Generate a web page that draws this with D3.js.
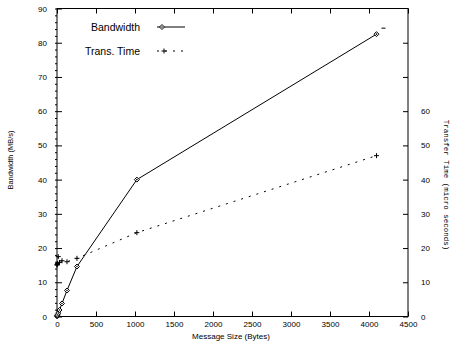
<!DOCTYPE html>
<html lang="en">
<head>
<meta charset="UTF-8">
<title>Bandwidth vs Message Size</title>
<script src="https://d3js.org/d3.v7.min.js"></script>
<style>
  body { margin: 0; background: #fff; }
  text { font-family: "Liberation Sans", Arial, sans-serif; fill: #000; }
</style>
</head>
<body>
<div id="chart"></div>
<script>
// Data
const sizes = [1, 2, 4, 8, 16, 32, 64, 128, 256, 1024, 4096];
const bandwidth = [0.07, 0.13, 0.26, 0.5, 1.0, 1.9, 3.8, 7.6, 14.6, 40, 82.5];
const transTime = [15, 15.2, 15.3, 15.5, 17.5, 15.8, 16.3, 16, 17, 24.5, 47];
const xTicks = d3.range(0, 4501, 500);
const yTicks = d3.range(0, 91, 10);
const rightTicks = d3.range(0, 81, 10);
const rightLabels = d3.range(0, 61, 10);

const width = 451, height = 342;
const svg = d3.select("#chart").append("svg")
  .attr("width", width).attr("height", height);

const x = d3.scaleLinear().domain([0, 4500]).range([57, 408]);
const y = d3.scaleLinear().domain([0, 90]).range([316.5, 8.5]);

// frame
svg.append("rect")
  .attr("x", x(0)).attr("y", y(90))
  .attr("width", x(4500) - x(0)).attr("height", y(0) - y(90))
  .attr("fill", "none").attr("stroke", "#000").attr("stroke-width", 1);

// bottom axis, ticks inside
svg.append("g")
  .attr("transform", `translate(0,${y(0)})`)
  .call(d3.axisBottom(x).tickValues(xTicks).tickSize(-5).tickPadding(5).tickFormat(d3.format("d")))
  .call(g => g.select(".domain").remove())
  .call(g => g.selectAll("text").attr("font-size", 8).attr("font-family", "Liberation Sans, Arial"));

// top mirror ticks
svg.append("g")
  .attr("transform", `translate(0,${y(90)})`)
  .call(d3.axisTop(x).tickValues(xTicks).tickSize(-5).tickFormat(""))
  .call(g => g.select(".domain").remove());

// left axis
svg.append("g")
  .attr("transform", `translate(${x(0)},0)`)
  .call(d3.axisLeft(y).tickValues(yTicks).tickSize(-5).tickPadding(10))
  .call(g => g.select(".domain").remove())
  .call(g => g.selectAll("text").attr("font-size", 8).attr("font-family", "Liberation Sans, Arial"));

// left minor ticks
svg.append("g")
  .attr("transform", `translate(${x(0)},0)`)
  .call(d3.axisLeft(y).tickValues(d3.range(0, 91, 2)).tickSize(2).tickFormat(""))
  .call(g => g.select(".domain").remove());

// right axis
svg.append("g")
  .attr("transform", `translate(${x(4500)},0)`)
  .call(d3.axisRight(y).tickValues(rightTicks).tickSize(-5).tickPadding(13)
    .tickFormat(d => rightLabels.includes(d) ? d : ""))
  .call(g => g.select(".domain").remove())
  .call(g => g.selectAll("text").attr("font-size", 8).attr("font-family", "Liberation Sans, Arial"));

// axis titles
svg.append("text")
  .attr("transform", `translate(13,${160}) rotate(-90)`)
  .attr("text-anchor", "middle").attr("font-size", 7.5)
  .text("Bandwidth (MB/s)");

svg.append("text")
  .attr("x", 231).attr("y", 339)
  .attr("text-anchor", "middle").attr("font-size", 8)
  .text("Message Size (Bytes)");

svg.append("text")
  .attr("transform", `translate(444,${185}) rotate(90)`)
  .attr("text-anchor", "middle").attr("font-size", 7.5)
  .style("font-family", "Liberation Mono, Courier New, monospace")
  .text("Transfer Time (micro seconds)");

// series
const bwPts = sizes.map((s, i) => [s, bandwidth[i]]);
const ttPts = sizes.map((s, i) => [s, transTime[i]]);
const line = d3.line().x(d => x(d[0])).y(d => y(d[1]));

svg.append("path").datum(ttPts)
  .attr("d", line).attr("fill", "none")
  .attr("stroke", "#000").attr("stroke-width", 1).attr("stroke-dasharray", "2,6");

svg.append("path").datum(bwPts)
  .attr("d", line).attr("fill", "none")
  .attr("stroke", "#000").attr("stroke-width", 1);

function diamond(g, cx, cy) {
  g.append("path")
    .attr("d", `M${cx},${cy - 2.5}L${cx + 2.5},${cy}L${cx},${cy + 2.5}L${cx - 2.5},${cy}Z`)
    .attr("fill", "#fff").attr("stroke", "#000").attr("stroke-width", 1);
  g.append("circle").attr("cx", cx).attr("cy", cy).attr("r", 0.8).attr("fill", "#000");
}
function plus(g, cx, cy) {
  g.append("path")
    .attr("d", `M${cx - 2.5},${cy}H${cx + 2.5}M${cx},${cy - 2.5}V${cy + 2.5}`)
    .attr("stroke", "#000").attr("stroke-width", 1);
}

const marks = svg.append("g");
ttPts.forEach(d => plus(marks, x(d[0]), y(d[1])));
bwPts.forEach(d => diamond(marks, x(d[0]), y(d[1])));

// small dash beside the last bandwidth point
const last = bwPts[bwPts.length - 1];
marks.append("line")
  .attr("x1", x(last[0]) + 5).attr("x2", x(last[0]) + 9)
  .attr("y1", y(last[1]) - 6).attr("y2", y(last[1]) - 6)
  .attr("stroke", "#000");

// legend
const legend = svg.append("g");
legend.append("text").attr("x", 140).attr("y", 31)
  .attr("text-anchor", "end").attr("font-size", 10.5).text("Bandwidth");
legend.append("line").attr("x1", 157).attr("x2", 185).attr("y1", 27).attr("y2", 27)
  .attr("stroke", "#000");
diamond(legend, 162, 27);

legend.append("text").attr("x", 140).attr("y", 55)
  .attr("text-anchor", "end").attr("font-size", 10.5).text("Trans. Time");
legend.append("line").attr("x1", 157).attr("x2", 185).attr("y1", 51).attr("y2", 51)
  .attr("stroke", "#000").attr("stroke-dasharray", "2,6");
plus(legend, 164, 51);
</script>
</body>
</html>
